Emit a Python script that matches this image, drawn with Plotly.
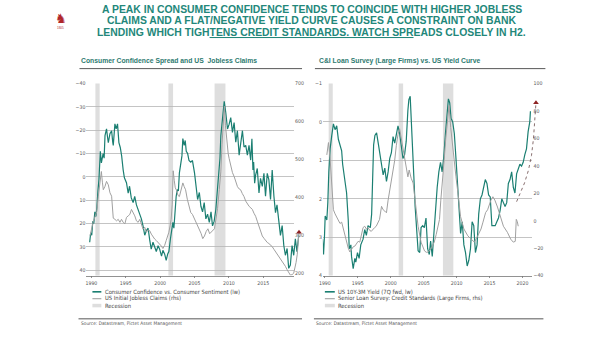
import plotly.graph_objects as go

W, H = 605, 341

# ---------------- data ----------------
recession_start = [1990.58, 2001.2, 2007.92]
recession_end = [1991.2, 2001.88, 2009.5]

# Consumer Confidence vs. Consumer Sentiment spread (left axis, inverted)
cc_years = [1989.75, 1989.9, 1990.05, 1990.2, 1990.35, 1990.5, 1990.65, 1990.8, 1990.95, 1991.1,
            1991.3, 1991.45, 1991.7, 1991.85, 1991.98, 1992.2, 1992.35, 1992.46, 1992.7, 1992.94,
            1993.1, 1993.18, 1993.42, 1993.6, 1993.8, 1994.0, 1994.2, 1994.4, 1994.62, 1994.8,
            1995.1, 1995.35, 1995.55, 1995.8, 1996.07, 1996.3, 1996.55, 1996.8, 1997.04, 1997.27,
            1997.51, 1997.76, 1998.0, 1998.25, 1998.48, 1998.7, 1998.96, 1999.2, 1999.44, 1999.7,
            1999.93, 2000.2, 2000.4, 2000.65, 2000.88, 2001.1, 2001.27, 2001.5, 2001.7, 2001.85,
            2002.0, 2002.15, 2002.33, 2002.5, 2002.65, 2002.8, 2003.0, 2003.17, 2003.3, 2003.5,
            2003.65, 2003.8, 2004.0, 2004.2, 2004.45, 2004.7, 2005.0, 2005.2, 2005.45, 2005.7,
            2005.93, 2006.17, 2006.41, 2006.65, 2006.9, 2007.15, 2007.4, 2007.62, 2007.86, 2008.1,
            2008.35, 2008.6, 2008.7, 2008.83, 2009.08, 2009.32, 2009.55, 2009.8, 2010.04, 2010.27,
            2010.52, 2010.76, 2011.0, 2011.24, 2011.49, 2011.72, 2011.97, 2012.2, 2012.45, 2012.69,
            2012.93, 2013.17, 2013.35, 2013.5, 2013.6, 2013.75, 2013.89, 2014.13, 2014.38, 2014.6,
            2014.86, 2015.1, 2015.33, 2015.58, 2015.82, 2016.06, 2016.3, 2016.55, 2016.78, 2017.0,
            2017.27, 2017.5, 2017.75, 2017.99, 2018.22, 2018.47, 2018.7, 2018.94, 2019.19, 2019.43,
            2019.67, 2019.9, 2020.16]
cc_spread = [28, 24, 25, 19, 20, 15, 17, 13, 6, 1,
             -11, -6, -10, -8, -17.7, -20.6, -17, -14.7, -18.5, -19.8,
             -15, -13.5, -22.7, -20.6, -22.7, -14.7, -12.6, -9, -3, 0.4,
             2.5, 7, 4, 9, 11, 8.4, 12, 14, 16, 18,
             21, 25, 23, 22, 27, 31, 28, 30, 32, 29.5,
             31, 34, 31.5, 33, 35.8, 33, 32, 26.5, 23, 19.5,
             22, 14, 8.4, 5.5, 6, -1.7, -5, -9, -16.4, -13.5,
             -15.6, -11, -10, -7, -6.3, -7, -1.7, 4, 9.7, 6.7,
             12.6, 15, 11, 18, 16, 19.5, 15, 21, 19, 14,
             5.5, -3, -7.9, -17.7, -26, -32.4, -27.5, -20.5, -22.6, -25.4,
             -19.1, -23.3, -14.9, -19.8, -9.3, -14.9, -19.8, -12.8, -13.5, -9.3,
             -13.5, -7.2, -16.3, -3, -6.4, 2.7, -0.8, -3.6, 6.9, 0.6,
             4.1, -1.5, 8.3, -1.5, 1.3, 9.7, -2.9, 8.3, 15.3, 12,
             19.5, 25.1, 20.9, 29.4, 33.6, 30.7, 39.2, 37.8, 29.4, 33.6,
             26.5, 32.1, 25.1]

# US initial jobless claims, thousands (right axis)
claims_years = [1989.8, 1990.05, 1990.3, 1990.55, 1990.77, 1991.0, 1991.25, 1991.45, 1991.6, 1991.73,
                1991.98, 1992.2, 1992.46, 1992.7, 1992.94, 1993.18, 1993.42, 1993.66, 1993.9, 1994.15,
                1994.38, 1994.62, 1994.87, 1995.1, 1995.35, 1995.59, 1995.83, 1996.07, 1996.31, 1996.55,
                1996.8, 1997.04, 1997.27, 1997.51, 1997.76, 1998.0, 1998.24, 1998.48, 1998.72, 1998.96,
                1999.2, 1999.44, 1999.68, 1999.93, 2000.15, 2000.4, 2000.65, 2000.88, 2001.1, 2001.27,
                2001.45, 2001.6, 2001.75, 2001.9, 2002.05, 2002.2, 2002.4, 2002.6, 2002.8, 2003.05,
                2003.3, 2003.5, 2003.7, 2003.95, 2004.2, 2004.45, 2004.7, 2004.95, 2005.2, 2005.45,
                2005.7, 2005.95, 2006.2, 2006.45, 2006.7, 2006.95, 2007.2, 2007.45, 2007.7, 2007.9,
                2008.1, 2008.35, 2008.6, 2008.83, 2009.0, 2009.2, 2009.35, 2009.5, 2009.7, 2009.9,
                2010.04, 2010.3, 2010.52, 2010.76, 2011.0, 2011.25, 2011.5, 2011.7, 2011.95, 2012.2,
                2012.45, 2012.7, 2012.95, 2013.2, 2013.41, 2013.65, 2013.89, 2014.13, 2014.38, 2014.62,
                2014.86, 2015.1, 2015.33, 2015.58, 2015.82, 2016.06, 2016.3, 2016.55, 2016.78, 2017.03,
                2017.27, 2017.5, 2017.75, 2017.99, 2018.22, 2018.47, 2018.7, 2018.94, 2019.19, 2019.43]
claims = [299, 321, 338, 350, 362, 403, 450, 468, 440, 420,
          429, 442, 433, 412, 403, 345, 342, 338, 342, 334,
          342, 334, 330, 347, 351, 355, 368, 360, 351, 338,
          334, 342, 330, 316, 321, 308, 314, 312, 303, 295,
          290, 286, 282, 278, 272, 265, 273, 286, 298, 308,
          325, 342, 380, 470, 445, 425, 418, 405, 402, 418,
          438, 428, 420, 395, 376, 360, 355, 345, 335, 325,
          317, 305, 291, 298, 310, 317, 304, 308, 312, 317,
          340, 370, 420, 467, 540, 620, 640, 590, 540, 515,
          502, 480, 465, 455, 438, 428, 422, 420, 410, 402,
          390, 382, 376, 372, 368, 358, 350, 337, 322, 310,
          298, 292, 285, 281, 278, 274, 270, 263, 257, 250,
          244, 238, 231, 225, 218, 209, 200, 195, 196, 200]
claims_proj_years = [2019.43, 2019.6, 2019.77, 2019.95, 2020.08, 2020.2]
claims_proj = [200, 212, 228, 250, 275, 308]

# US 10Y-3M yield, 7 quarters forward (left axis, inverted)
curve_years = [1989.65, 1989.8, 1989.95, 1990.05, 1990.3, 1990.45, 1990.6, 1990.8, 1991.05, 1991.3,
               1991.55, 1991.8, 1992.05, 1992.3, 1992.55, 1992.7, 1992.85, 1993.05, 1993.3, 1993.55,
               1993.7, 1993.95, 1994.05, 1994.3, 1994.55, 1994.7, 1994.95, 1995.2, 1995.45, 1995.8,
               1996.05, 1996.3, 1996.55, 1996.9, 1997.1, 1997.25, 1997.4, 1997.6, 1997.85, 1998.1,
               1998.35, 1998.6, 1998.85, 1999.1, 1999.35, 1999.6, 1999.85, 2000.1, 2000.35, 2000.6,
               2000.85, 2001.1, 2001.35, 2001.6, 2001.85, 2002.1, 2002.35, 2002.6, 2002.75, 2002.95,
               2003.1, 2003.35, 2003.5, 2003.7, 2003.9, 2004.15, 2004.4, 2004.6, 2004.85, 2005.1,
               2005.35, 2005.6, 2005.85, 2006.05, 2006.3, 2006.55, 2006.8, 2007.05, 2007.3, 2007.55,
               2007.8, 2008.05, 2008.3, 2008.55, 2008.75, 2008.95, 2009.15, 2009.4, 2009.65, 2009.9,
               2010.15, 2010.35, 2010.6, 2010.85, 2011.1, 2011.35, 2011.6, 2011.85, 2012.1, 2012.35,
               2012.6, 2012.85, 2013.1, 2013.35, 2013.6, 2013.85, 2014.1, 2014.35, 2014.6, 2014.85,
               2015.1, 2015.35, 2015.6, 2015.85, 2016.1, 2016.35, 2016.6, 2016.85, 2017.1, 2017.35,
               2017.6, 2017.85, 2018.1, 2018.35, 2018.6, 2018.85, 2019.1, 2019.35, 2019.6, 2019.85,
               2020.1, 2020.35, 2020.6, 2020.85, 2021.1, 2021.2]
curve_10y3m = [3.05, 3.45, 2.95, 2.45, 2.55, 2.1, 1.3, 0.7, 0.35, 0.05,
               0.2, 0.1, 0.45, 0.6, 0.75, 1.1, 1.3, 1.5, 1.85, 2.55,
               3.3, 3.2, 3.5, 3.82, 3.55, 3.65, 3.4, 3.55, 3.2, 3.05,
               2.8, 2.95, 2.7, 2.75, 2.4, 1.5, 0.6, 0.35, 0.28, 0.55,
               0.8, 1.05, 1.38, 1.2, 1.55, 1.3, 0.95, 0.8, 0.38, 0.55,
               0.28, 0.1, 0.3, 0.7, 0.95, 0.85, 0.5, -0.3, -0.58, -0.67,
               -0.15, 0.55, 1.4, 2.2, 2.8, 3.35, 3.4, 2.75, 2.7, 2.75,
               2.5, 3.3, 3.45, 3.1, 3.5, 2.8, 2.2, 1.7, 1.3, 1.05,
               1.3, 0.9, 0.3, -0.2, -0.6, -0.5, -0.1, 0.0, 0.3, 0.95,
               1.65, 2.4, 2.9, 2.6, 3.2, 3.4, 3.75, 3.6, 3.3, 2.6,
               2.7, 3.4, 3.2, 2.4, 2.0, 1.9, 1.7, 1.5, 1.6, 1.9,
               1.95, 2.7, 2.7, 2.7, 2.6, 2.5, 2.3, 2.0, 2.1, 2.2,
               2.1, 1.6, 1.5, 1.3, 1.7, 1.85, 1.35, 1.2, 1.1, 1.15,
               1.05, 0.85, 0.7, 0.25, 0.0, -0.28]

# Senior Loan Officer Survey: credit standards, large firms (right axis)
sloos_years = [1990.3, 1990.55, 1990.8, 1991.05, 1991.3, 1991.55, 1991.8, 1992.05, 1992.3, 1992.55,
               1992.8, 1993.05, 1993.3, 1993.55, 1993.8, 1994.05, 1994.3, 1994.55, 1994.8, 1995.05,
               1995.3, 1995.55, 1995.8, 1996.05, 1996.3, 1996.55, 1996.8, 1997.05, 1997.3, 1997.55,
               1997.8, 1998.05, 1998.3, 1998.6, 1998.85, 1999.1, 1999.35, 1999.6, 1999.85, 2000.1,
               2000.35, 2000.6, 2000.85, 2001.1, 2001.35, 2001.6, 2001.85, 2002.1, 2002.35, 2002.6,
               2002.8, 2003.1, 2003.4, 2003.6, 2003.87, 2004.15, 2004.6, 2004.85, 2005.13, 2005.4,
               2005.7, 2006.1, 2006.4, 2006.6, 2006.9, 2007.14, 2007.4, 2007.6, 2007.9, 2008.1,
               2008.35, 2008.6, 2008.85, 2009.1, 2009.35, 2009.65, 2009.9, 2010.2, 2010.6, 2011.1,
               2011.7, 2012.2, 2012.7, 2013.2, 2013.7, 2014.0, 2014.2, 2014.4, 2014.7, 2015.2,
               2015.5, 2015.8, 2016.2, 2016.7, 2017.1, 2017.7, 2018.2, 2018.6, 2018.9, 2019.05,
               2019.2, 2019.35]
sloos = [48, 57, 45, 28, 8, 5, 3, 1, -2, -1,
         -6, -10, -15.6, -20, -22.8, -21, -19, -18.5, -17, -15,
         -15.6, -9, -5, -4, -6, -5, -7, -7.7, -6, -5,
         -4, -2, 1, 10.5, 8, 7, 5.8, 15, 22.5, 29.6,
         39, 44, 55, 63, 67, 60, 55, 48, 38, 32,
         37, 31, 27.5, 20, 8, -4, -15.6, -19, -22, -23,
         -22.8, -20.6, -18, -15.6, -10, -4, 1, 15, 29.6, 44,
         60, 75, 84, 68, 55, 44, 32, 20, 3, -6,
         -11, -13.4, -15.6, -11, -6, -1, 3, 6, 8, 15,
         17.5, 15, 10, 3, -4, -8.4, -13.4, -15.6, -15, 1,
         -0.5, -4]
sloos_proj_years = [2019.1, 2019.7, 2020.3, 2020.9, 2021.36, 2021.66, 2021.89, 2022.04]
sloos_proj = [13.9, 20.3, 27.5, 36.8, 47.6, 59.8, 72.7, 86]

# tick labels
cc_ticks = [-40, -30, -20, -10, 0, 10, 20, 30, 40]
claims_ticks = [200, 300, 400, 500, 600, 700]
years_left = [1990, 1995, 2000, 2005, 2010, 2015]
curve_ticks = [-1, 0, 1, 2, 3, 4]
sloos_ticks = [-40, -20, 0, 20, 40, 60, 80, 100]
years_right = [1990, 1995, 2000, 2005, 2010, 2015, 2020]

# ---------------- styling ----------------
TEAL = "#1b7f72"
GREY_LINE = "#a0a0a0"
RECESSION = "#dedede"
GRID = "#b5b5b5"
AXIS_TXT = "#555555"
TITLE_COL = "#23877a"
SUB_COL = "#2e7a70"
ARROW_COL = "#8e2323"
NARROW = "Liberation Sans Narrow, Arial Narrow, DejaVu Sans Condensed, Arial"
SANS = "Arial, Liberation Sans, sans-serif"


def px_x(p):
    return p / W


def px_y(p):
    return 1 - p / H


# panel geometry (pixels)
TOP, BOTTOM = 82, 277.5
L_X0, L_X1, L_XD = 83, 292, 300       # left panel: axis edge and wider data clip
R_X0, R_X1, R_XD = 321, 532, 545      # right panel
L_YEAR0, L_PPY = 1989.28, 6.92        # year at left edge, pixels per year
R_YEAR0, R_PPY = 1989.70, 6.633

cc_range = [42.32, -40]
claims_range = [193.5, 700]
curve_range = [4, -1]
sloos_range = [-40, 100]

ydom = [px_y(BOTTOM), px_y(TOP)]
tickfont = dict(family=NARROW, size=5.2, color=AXIS_TXT)

fig = go.Figure()

# main (visible) axes get placeholder traces so their subplots are built
fig.add_trace(go.Scatter(x=[None], y=[None], xaxis="x", yaxis="y", showlegend=False))
fig.add_trace(go.Scatter(x=[None], y=[None], xaxis="x", yaxis="y2", showlegend=False))
fig.add_trace(go.Scatter(x=[None], y=[None], xaxis="x2", yaxis="y3", showlegend=False))
fig.add_trace(go.Scatter(x=[None], y=[None], xaxis="x2", yaxis="y4", showlegend=False))

# left panel series
fig.add_trace(go.Scatter(x=claims_years, y=claims, xaxis="x3", yaxis="y6", mode="lines",
                         line=dict(color=GREY_LINE, width=1), showlegend=False, hoverinfo="skip"))
fig.add_trace(go.Scatter(x=claims_proj_years, y=claims_proj, xaxis="x3", yaxis="y6", mode="lines",
                         line=dict(color=GREY_LINE, width=1), showlegend=False, hoverinfo="skip"))
fig.add_trace(go.Scatter(x=cc_years, y=cc_spread, xaxis="x3", yaxis="y5", mode="lines",
                         line=dict(color=TEAL, width=1.2), showlegend=False, hoverinfo="skip"))
fig.add_trace(go.Scatter(x=claims_proj_years[-1:], y=claims_proj[-1:], xaxis="x3", yaxis="y6",
                         mode="markers", marker=dict(symbol="triangle-up", size=5, color=ARROW_COL),
                         cliponaxis=False, showlegend=False, hoverinfo="skip"))

# right panel series
fig.add_trace(go.Scatter(x=sloos_years, y=sloos, xaxis="x4", yaxis="y8", mode="lines",
                         line=dict(color=GREY_LINE, width=1), showlegend=False, hoverinfo="skip"))
fig.add_trace(go.Scatter(x=sloos_proj_years, y=sloos_proj, xaxis="x4", yaxis="y8", mode="lines",
                         line=dict(color="#7a5f5f", width=0.9, dash="dot"),
                         showlegend=False, hoverinfo="skip"))
fig.add_trace(go.Scatter(x=curve_years, y=curve_10y3m, xaxis="x4", yaxis="y7", mode="lines",
                         line=dict(color=TEAL, width=1.2), showlegend=False, hoverinfo="skip"))
fig.add_trace(go.Scatter(x=sloos_proj_years[-1:], y=sloos_proj[-1:], xaxis="x4", yaxis="y8",
                         mode="markers", marker=dict(symbol="triangle-up", size=5, color=ARROW_COL),
                         cliponaxis=False, showlegend=False, hoverinfo="skip"))

hidden = dict(visible=False, showgrid=False, zeroline=False, fixedrange=True)
xcommon = dict(showgrid=False, zeroline=False, ticks="outside", ticklen=2, tickwidth=0.8,
               tickcolor="#777", showline=True, linecolor="#777", linewidth=0.8,
               tickfont=tickfont, tickmode="array")
ycommon = dict(showgrid=True, gridcolor=GRID, gridwidth=0.8, zeroline=False, ticks="",
               showline=False, tickfont=tickfont, tickmode="array")

fig.update_layout(
    width=W, height=H, autosize=False,
    margin=dict(l=0, r=0, t=0, b=0, pad=0),
    paper_bgcolor="white", plot_bgcolor="rgba(0,0,0,0)",
    showlegend=False,
    xaxis=dict(domain=[px_x(L_X0), px_x(L_X1)], anchor="y",
               range=[L_YEAR0, L_YEAR0 + (L_X1 - L_X0) / L_PPY], tickvals=years_left, **xcommon),
    yaxis=dict(domain=ydom, anchor="x", range=cc_range, tickvals=cc_ticks, **ycommon),
    yaxis2=dict(domain=ydom, anchor="x", overlaying="y", side="right", range=claims_range,
                tickvals=claims_ticks, showgrid=False, zeroline=False, ticks="",
                tickfont=tickfont, tickmode="array"),
    xaxis2=dict(domain=[px_x(R_X0), px_x(R_X1)], anchor="y3",
                range=[R_YEAR0, R_YEAR0 + (R_X1 - R_X0) / R_PPY], tickvals=years_right, **xcommon),
    yaxis3=dict(domain=ydom, anchor="x2", range=curve_range, tickvals=curve_ticks, **ycommon),
    yaxis4=dict(domain=ydom, anchor="x2", overlaying="y3", side="right", range=sloos_range,
                tickvals=sloos_ticks, showgrid=False, zeroline=False, ticks="",
                tickfont=tickfont, tickmode="array"),
    # data layers, same scales, slightly wider clip on the right
    xaxis3=dict(domain=[px_x(L_X0), px_x(L_XD)], anchor="y5",
                range=[L_YEAR0, L_YEAR0 + (L_XD - L_X0) / L_PPY], **hidden),
    yaxis5=dict(domain=ydom, anchor="x3", range=cc_range, **hidden),
    yaxis6=dict(domain=ydom, anchor="x3", overlaying="y5", range=claims_range, **hidden),
    xaxis4=dict(domain=[px_x(R_X0), px_x(R_XD)], anchor="y7",
                range=[R_YEAR0, R_YEAR0 + (R_XD - R_X0) / R_PPY], **hidden),
    yaxis7=dict(domain=ydom, anchor="x4", range=curve_range, **hidden),
    yaxis8=dict(domain=ydom, anchor="x4", overlaying="y7", range=sloos_range, **hidden),
)

shapes = []
# recession bands
for s, e in zip(recession_start, recession_end):
    for xr, yr in (("x", "y domain"), ("x2", "y3 domain")):
        shapes.append(dict(type="rect", xref=xr, yref=yr, x0=s, x1=e, y0=0, y1=1,
                           fillcolor=RECESSION, line=dict(width=0), layer="below"))


def hline(x0, x1, y, color, width, dash="solid"):
    shapes.append(dict(type="line", xref="paper", yref="paper", x0=px_x(x0), x1=px_x(x1),
                       y0=px_y(y), y1=px_y(y), line=dict(color=color, width=width, dash=dash)))


# rules under panel titles and above sources
hline(76, 300, 66.8, "#444", 0.9)
hline(313, 545, 66.8, "#444", 0.9)
hline(75, 300, 321.5, "#444", 0.9)
hline(312, 543, 321.5, "#444", 0.9)

# legend keys
for gx0, gx1 in ((89, 98), (323, 333)):
    hline(gx0, gx1, 294, TEAL, 1.6)
    hline(gx0, gx1, 301, GREY_LINE, 1.1)
    shapes.append(dict(type="rect", xref="paper", yref="paper", x0=px_x(gx0), x1=px_x(gx1),
                       y0=px_y(309.8), y1=px_y(306.2), fillcolor=RECESSION, line=dict(width=0)))

fig.update_layout(shapes=shapes)

ann = []


def text(x, y, s, size, color, family=NARROW, xanchor="left", bold=False):
    ann.append(dict(x=px_x(x), y=px_y(y), xref="paper", yref="paper", text=s, showarrow=False,
                    xanchor=xanchor, yanchor="middle", align="left",
                    font=dict(family=family, size=size, color=color,
                              weight="bold" if bold else "normal")))


# headline
text(310, 6.5, "A PEAK IN CONSUMER CONFIDENCE TENDS TO COINCIDE WITH HIGHER JOBLESS",
     10.4, TITLE_COL, SANS, "center", True)
text(310, 18.3, "CLAIMS AND A FLAT/NEGATIVE YIELD CURVE CAUSES A CONSTRAINT ON BANK",
     10.4, TITLE_COL, SANS, "center", True)
text(310, 30.1, "LENDING WHICH TIGH<u>TENS CREDIT STANDARDS. WATCH SPR</u>EADS CLOSELY IN H2.",
     10.4, TITLE_COL, SANS, "center", True)

# small emblem
text(57, 16, "♞", 13, "#b0262b", "DejaVu Sans", "center")
text(57, 25.5, "1805", 3, "#b0262b", SANS, "center")

# panel titles
text(75.5, 59.5, "Consumer Confidence Spread and US  Jobless Claims", 6.8, SUB_COL, SANS, "left", True)
text(315.5, 59.5, "C&amp;I Loan Survey (Large Firms) vs. US Yield Curve", 6.8, SUB_COL, SANS, "left", True)

# legends
LEG = "#444"
text(99.5, 294, "Consumer Confidence vs. Consumer Sentiment (lw)", 5.8, LEG)
text(99.5, 301, "US Initial Jobless Claims (rhs)", 5.8, LEG)
text(99.5, 308, "Recession", 5.8, LEG)
text(334.5, 294, "US 10Y-3M Yield (7Q fwd, lw)", 5.8, LEG)
text(334.5, 301, "Senior Loan Survey: Credit Standards (Large Firms, rhs)", 5.8, LEG)
text(334.5, 308, "Recession", 5.8, LEG)

# sources
text(75, 326.5, "Source: Datastream, Pictet Asset Management", 4.8, "#555")
text(312, 326.5, "Source: Datastream, Pictet Asset Management", 4.8, "#555")

fig.update_layout(annotations=ann)

fig.write_html("out.html", include_plotlyjs=True, config={"displayModeBar": False, "staticPlot": True})
